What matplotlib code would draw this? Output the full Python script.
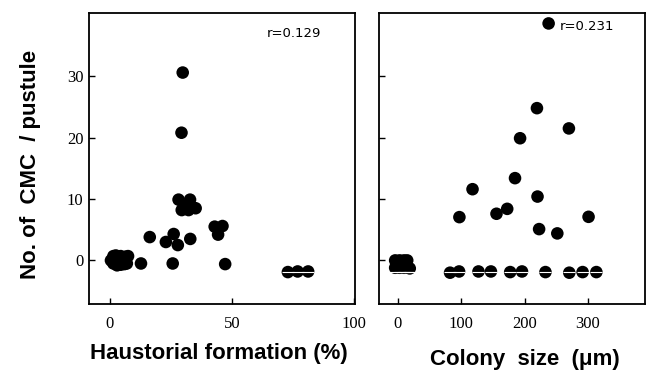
import matplotlib
matplotlib.use("Agg")
import matplotlib.pyplot as plt

# Left panel: haustorial formation (%) vs No. of CMC / pustule
haus_x = [0.5, 1.5, 2.5, 3.5, 4.5, 5.5, 6.5, 7.5, 1.5, 3.0, 4.5, 6.0, 7.0, 2.5, 5.0,
          12.8, 16.4, 23.0, 26.2, 27.9, 33.0, 25.8,
          29.9, 29.4, 28.2, 32.9, 35.2, 29.5, 32.3, 31.0,
          43.0, 46.2, 44.4, 47.3,
          73.0, 77.0, 81.3]
haus_y = [0.0, 0.7, 0.8, 0.6, 0.7, 0.5, 0.6, 0.7, -0.5, -0.8, -0.7, -0.6, -0.5, 0.2, 0.0,
          -0.5, 3.8, 3.0, 4.3, 2.5, 3.5, -0.5,
          30.6, 20.8, 9.9, 9.9, 8.5, 8.2, 8.2, 9.0,
          5.5, 5.6, 4.2, -0.6,
          -1.9, -1.8, -1.8]

# Right panel: colony size (um) vs No. of CMC / pustule
col_x = [-4, 3, 10, 15, -4, 3, 10, 16, 19,
         238, 219.6, 270, 193, 185, 118, 220.5, 172.7, 155.8, 97.3, 301, 223, 251.7,
         82.6, 96.8, 127.4, 147, 177.4, 196, 233, 270.6, 291.6, 313.3]
col_y = [0.0, 0.0, 0.0, 0.0, -1.2, -1.2, -1.2, -1.2, -1.3,
         38.6, 24.8, 21.5, 19.9, 13.4, 11.6, 10.4, 8.4, 7.6, 7.05, 7.1, 5.1, 4.4,
         -2.0, -1.8, -1.8, -1.8, -1.9, -1.8, -1.9, -2.0, -1.9, -1.9]

y_ticks = [0, 10, 20, 30]
haus_ticks = [0, 50, 100]
col_ticks = [0, 100, 200, 300]

W, H = 650, 370
fig = plt.figure(figsize=(6.5, 3.7), dpi=100)
axL = fig.add_axes([89 / W, 1 - 304 / H, 266 / W, 291 / H])
axR = fig.add_axes([379 / W, 1 - 304 / H, 266 / W, 291 / H])

serif = "Liberation Serif"
for ax in (axL, axR):
    ax.set_ylim(-7.1, 40.3)
    ax.set_yticks(y_ticks)
    ax.tick_params(direction="in", length=4, width=1.0, color="black",
                   labelsize=12, pad=4)
    for sp in ax.spines.values():
        sp.set_linewidth(1.3)

axL.set_xlim(-8.5, 100.5)
axL.set_xticks(haus_ticks)
axL.set_xticklabels([str(t) for t in haus_ticks], fontfamily=serif)
axL.set_yticklabels([str(t) for t in y_ticks], fontfamily=serif)
axL.tick_params(axis="x", pad=9)

axR.set_xlim(-29.5, 390)
axR.set_xticks(col_ticks)
axR.set_xticklabels([str(t) for t in col_ticks], fontfamily=serif)
axR.set_yticklabels([])
axR.tick_params(axis="x", pad=9)

ms = 82
axL.scatter(haus_x, haus_y, s=ms, c="black", edgecolors="none", zorder=3)
axR.scatter(col_x, col_y, s=ms, c="black", edgecolors="none", zorder=3)

# thin white scan line through the lowest markers
lowL = [x for x, y in zip(haus_x, haus_y) if y < -1.5]
lowR = [x for x, y in zip(col_x, col_y) if y < -1.1]
axL.scatter(lowL, [-1.9] * len(lowL), marker="_", s=80,
            c="white", linewidths=0.8, zorder=4)
axR.scatter(lowR, [-1.9] * len(lowR), marker="_", s=80,
            c="white", linewidths=0.8, zorder=4)

axL.text(0.669, 0.931, "r=0.129", transform=axL.transAxes, fontsize=9.5,
         fontfamily="DejaVu Sans", va="center", ha="left")
axR.text(0.68, 0.952, "r=0.231", transform=axR.transAxes, fontsize=9.5,
         fontfamily="DejaVu Sans", va="center", ha="left")

fig.text(31 / W, 1 - 164 / H, "No. of  CMC  / pustule", rotation=90,
         ha="center", va="center", fontsize=16, fontweight="bold",
         fontfamily="Liberation Sans")
fig.text(219 / W, 1 - 353 / H, "Haustorial formation (%)", ha="center",
         va="center", fontsize=16, fontweight="bold", fontfamily="Liberation Sans")
fig.text(525 / W, 1 - 360 / H, "Colony  size  (\u03bcm)", ha="center",
         va="center", fontsize=16, fontweight="bold", fontfamily="Liberation Sans")

fig.savefig("out.png", dpi=100)
